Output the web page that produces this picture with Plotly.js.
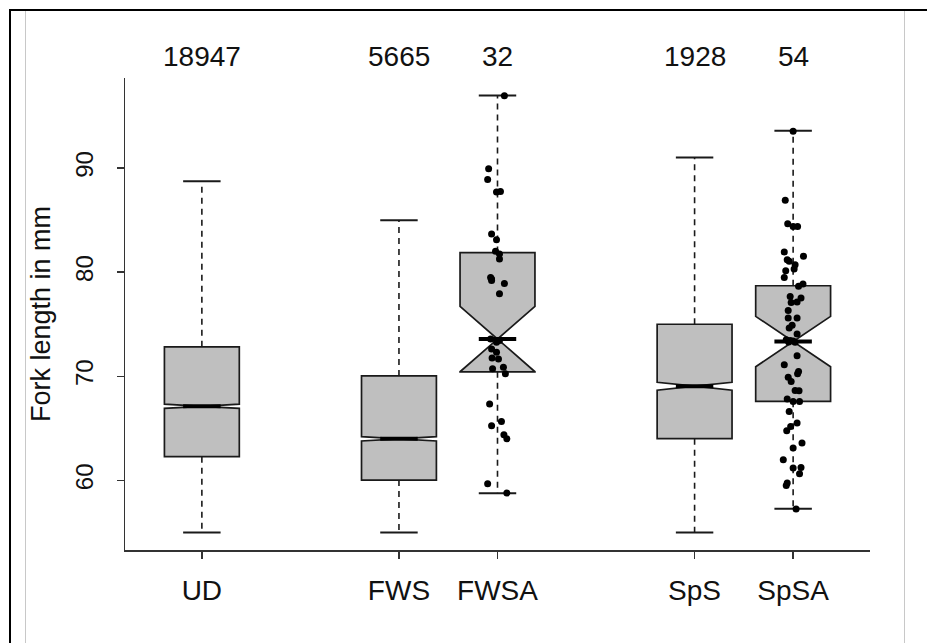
<!DOCTYPE html>
<html><head><meta charset="utf-8">
<script src="https://cdn.plot.ly/plotly-3.0.1.min.js"></script>
<style>
html,body{margin:0;padding:0;background:#fff;}
#wrap{position:relative;width:927px;height:643px;overflow:hidden;background:#fff;}
#chart{position:absolute;left:0;top:0;width:927px;height:643px;}
.ln{position:absolute;pointer-events:none;}
</style></head><body>
<div id="wrap">
<div id="chart"></div>
<div class="ln" style="left:9px;top:9px;width:918px;height:2px;background:#000"></div>
<div class="ln" style="left:9px;top:9px;width:2px;height:634px;background:#000"></div>
<div class="ln" style="left:25px;top:11px;width:1px;height:632px;background:#c8c8c8"></div>
<div class="ln" style="left:904px;top:11px;width:1px;height:632px;background:#c8c8c8"></div>
</div>
<script>
// ---- data ----
const categories = ['UD', 'FWS', 'FWSA', 'SpS', 'SpSA'];
const positions = [1, 3, 4, 6, 7];
const counts = [18947, 5665, 32, 1928, 54];
const lowerWhisker = [55.0, 55.0, 58.78, 55.0, 57.28];
const q1 = [62.28, 60.04, 70.43, 64.01, 67.6];
const median = [67.12, 64.0, 73.58, 69.05, 73.34];
const q3 = [72.83, 70.04, 81.88, 75.0, 78.7];
const upperWhisker = [88.73, 85.0, 96.96, 91.02, 93.58];
const notchSpan = [0.2, 0.21, 3.14, 0.38, 2.42];

const fwsaValues = [96.95, 89.94, 88.91, 87.70, 87.76, 83.67, 83.12, 82.0, 81.75, 81.27,
  79.5, 79.21, 78.92, 77.93, 73.58, 73.26, 73.45, 72.62, 72.30, 71.76,
  71.66, 70.73, 70.86, 70.25, 67.34, 65.25, 65.67, 64.39, 64.0, 59.68,
  58.79, 79.35];
const fwsaJitter = [0.07, -0.09, -0.10, -0.01, 0.03, -0.06, -0.01, -0.02, 0.02, 0.02,
  -0.07, -0.06, 0.07, 0.02, -0.07, -0.01, 0.02, -0.06, -0.01, -0.055,
  0.01, -0.05, 0.06, 0.08, -0.08, -0.06, 0.04, 0.065, 0.095, -0.10,
  0.095, -0.06];

const spsaValues = [93.53, 86.9, 84.66, 84.4, 84.4, 81.94, 81.2, 81.04, 81.52, 80.72,
  80.14, 79.5, 78.64, 78.87, 77.67, 77.52, 77.1, 77.14, 76.33, 75.6,
  75.6, 74.64, 74.06, 73.52, 73.45, 73.26, 71.98, 71.11, 70.47, 70.25,
  69.9, 69.51, 68.65, 68.62, 67.82, 67.59, 67.59, 66.63, 65.51, 65.19,
  64.77, 63.59, 63.11, 61.99, 61.19, 61.25, 60.64, 59.75, 59.52, 57.25,
  73.40, 73.30, 74.90, 80.30];
const spsaJitter = [0.0, -0.08, -0.055, 0.0, 0.045, -0.09, -0.06, -0.04, 0.105, 0.02,
  -0.075, -0.09, 0.055, 0.10, -0.03, 0.08, -0.02, 0.04, -0.05, -0.05,
  0.04, -0.04, 0.04, -0.07, -0.03, 0.02, 0.04, -0.09, 0.055, 0.045,
  -0.05, -0.02, 0.02, 0.06, -0.06, 0.0, 0.065, -0.04, 0.04, -0.025,
  -0.065, 0.09, 0.0, -0.10, 0.0, 0.08, 0.065, -0.06, -0.07, 0.03,
  0.0, -0.045, -0.01, 0.01];

const yTickVals = [60, 70, 80, 90];

// ---- style ----
const FONT = 'Liberation Sans, Arial, Helvetica, sans-serif';
const BOX_WIDTH = 0.76;
const CAP_HALF = BOX_WIDTH / 4;
const NOTCH_HALF = BOX_WIDTH / 4;
const LINE = '#1a1a1a';

// ---- traces ----
const boxTrace = {
  type: 'box',
  x: positions,
  q1: q1,
  median: median,
  q3: q3,
  lowerfence: q1,
  upperfence: q3,
  notchspan: notchSpan,
  notched: true,
  notchwidth: 0.5,
  width: BOX_WIDTH,
  boxpoints: false,
  fillcolor: '#bfbfbf',
  line: {color: LINE, width: 1.7},
  hoverinfo: 'skip',
  showlegend: false
};

const wx = [], wy = [], cx = [], cy = [], mx = [], my = [];
positions.forEach((p, i) => {
  wx.push(p, p, null, p, p, null);
  wy.push(q3[i], upperWhisker[i], null, q1[i], lowerWhisker[i], null);
  cx.push(p - CAP_HALF, p + CAP_HALF, null, p - CAP_HALF, p + CAP_HALF, null);
  cy.push(upperWhisker[i], upperWhisker[i], null, lowerWhisker[i], lowerWhisker[i], null);
  mx.push(p - NOTCH_HALF, p + NOTCH_HALF, null);
  my.push(median[i], median[i], null);
});

const whiskerTrace = {type: 'scatter', mode: 'lines', x: wx, y: wy,
  line: {color: LINE, width: 1.6, dash: '6px,5px'}, hoverinfo: 'skip', showlegend: false};
const capTrace = {type: 'scatter', mode: 'lines', x: cx, y: cy,
  line: {color: LINE, width: 2}, hoverinfo: 'skip', showlegend: false};
const medianTrace = {type: 'scatter', mode: 'lines', x: mx, y: my,
  line: {color: '#000', width: 4}, hoverinfo: 'skip', showlegend: false};

const fwsaPos = positions[categories.indexOf('FWSA')];
const spsaPos = positions[categories.indexOf('SpSA')];
const fwsaPoints = {type: 'scatter', mode: 'markers',
  x: fwsaJitter.map(d => fwsaPos + d), y: fwsaValues,
  marker: {color: '#000', size: 7}, showlegend: false};
const spsaPoints = {type: 'scatter', mode: 'markers',
  x: spsaJitter.map(d => spsaPos + d), y: spsaValues,
  marker: {color: '#000', size: 7}, showlegend: false};

const annotations = positions.map((p, i) => ({
  x: p, xref: 'x', y: 1.0445, yref: 'paper', yanchor: 'middle',
  text: String(counts[i]), showarrow: false,
  font: {family: FONT, size: 28, color: '#111'}
}));

const layout = {
  width: 927, height: 643,
  margin: {l: 125, r: 57, t: 78, b: 93},
  paper_bgcolor: '#fff', plot_bgcolor: '#fff',
  showlegend: false,
  boxmode: 'overlay',
  xaxis: {
    range: [0.22, 7.78], tickvals: positions, ticktext: categories,
    ticks: 'outside', ticklen: 7, tickwidth: 1.5, tickcolor: '#333',
    showline: true, linecolor: '#333', linewidth: 1.5,
    showgrid: false, zeroline: false,
    tickfont: {family: FONT, size: 28, color: '#111'},
    ticklabelstandoff: 8
  },
  yaxis: {
    range: [53.32, 98.65], tickvals: yTickVals,
    ticks: 'outside', ticklen: 7, tickwidth: 1.5, tickcolor: '#333',
    showline: true, linecolor: '#333', linewidth: 1.5,
    showgrid: false, zeroline: false, tickangle: -90,
    tickfont: {family: FONT, size: 24, color: '#111'},
    ticklabelstandoff: 14,
    title: {text: 'Fork length in mm', font: {family: FONT, size: 27, color: '#111'}, standoff: 12}
  },
  annotations: annotations
};

Plotly.newPlot('chart', [boxTrace, whiskerTrace, capTrace, medianTrace, fwsaPoints, spsaPoints], layout,
  {staticPlot: true, displayModeBar: false});
</script>
</body></html>
